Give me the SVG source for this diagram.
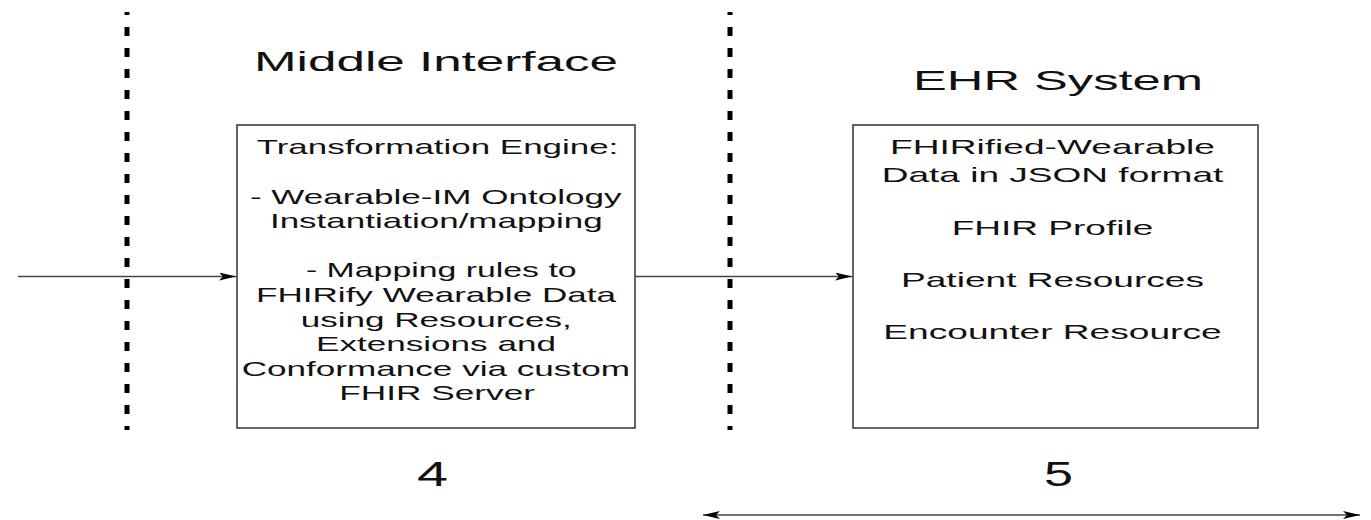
<svg xmlns="http://www.w3.org/2000/svg" width="1371" height="520" viewBox="0 0 1371 520">
<style>
.t{font-family:"Liberation Sans",Arial,sans-serif;fill:#111;text-anchor:middle}
.title{font-size:28px}
.num{font-size:35px}
.body{font-size:21px}
.box{fill:#fff;stroke:#333;stroke-width:1.5}
.conn{stroke:#444;stroke-width:1.5;fill:none}
.div{stroke:#000;stroke-width:5;stroke-dasharray:9 12;fill:none}
</style>
<defs>
<marker id="ah" viewBox="0 0 17 8" refX="17" refY="4" markerWidth="17" markerHeight="8" markerUnits="userSpaceOnUse" orient="auto-start-reverse">
<path d="M0,0 L17,4 L0,8 L4,4 Z" fill="#000"/>
</marker>
</defs>
<rect width="1371" height="520" fill="#fff"/>
<g id="dividers">
<line class="div" x1="127" y1="12" x2="127" y2="430" stroke-dashoffset="6"/>
<line class="div" x1="730" y1="12" x2="730" y2="430" stroke-dashoffset="6"/>
</g>
<g id="labels">
<text class="t title" x="436" y="70.7" textLength="364" lengthAdjust="spacingAndGlyphs">Middle Interface</text>
<text class="t title" x="1058" y="90" textLength="290" lengthAdjust="spacingAndGlyphs">EHR System</text>
<text class="t num" x="432.5" y="486" textLength="31" lengthAdjust="spacingAndGlyphs">4</text>
<text class="t num" x="1058.5" y="486" textLength="29" lengthAdjust="spacingAndGlyphs">5</text>
</g>
<g id="connectors">
<line class="conn" x1="18" y1="276.5" x2="236" y2="276.5" marker-end="url(#ah)"/>
<line class="conn" x1="635" y1="276.5" x2="852" y2="276.5" marker-end="url(#ah)"/>
<line class="conn" x1="703" y1="515" x2="1360" y2="515" marker-start="url(#ah)" marker-end="url(#ah)"/>
</g>
<g id="transformation-engine">
<rect class="box" x="237" y="125" width="398" height="303"/>
<text class="t body" x="437.5" y="154.3" textLength="361.6" lengthAdjust="spacingAndGlyphs">Transformation Engine:</text>
<text class="t body" x="435.8" y="203.5" textLength="371.7" lengthAdjust="spacingAndGlyphs">- Wearable-IM Ontology</text>
<text class="t body" x="436.3" y="228.1" textLength="332.7" lengthAdjust="spacingAndGlyphs">Instantiation/mapping</text>
<text class="t body" x="441.3" y="277.3" textLength="270.7" lengthAdjust="spacingAndGlyphs">- Mapping rules to</text>
<text class="t body" x="436" y="301.9" textLength="360" lengthAdjust="spacingAndGlyphs">FHIRify Wearable Data</text>
<text class="t body" x="436.2" y="326.5" textLength="271" lengthAdjust="spacingAndGlyphs">using Resources,</text>
<text class="t body" x="436" y="351.1" textLength="240" lengthAdjust="spacingAndGlyphs">Extensions and</text>
<text class="t body" x="435.8" y="375.7" textLength="388.3" lengthAdjust="spacingAndGlyphs">Conformance via custom</text>
<text class="t body" x="437.2" y="400.3" textLength="195.7" lengthAdjust="spacingAndGlyphs">FHIR Server</text>
</g>
<g id="ehr-system">
<rect class="box" x="853" y="125" width="405" height="303"/>
<text class="t body" x="1052.5" y="154.3" textLength="325" lengthAdjust="spacingAndGlyphs">FHIRified-Wearable</text>
<text class="t body" x="1052.5" y="181.5" textLength="341.7" lengthAdjust="spacingAndGlyphs">Data in JSON format</text>
<text class="t body" x="1052.5" y="234.5" textLength="201.7" lengthAdjust="spacingAndGlyphs">FHIR Profile</text>
<text class="t body" x="1052.5" y="286.7" textLength="303" lengthAdjust="spacingAndGlyphs">Patient Resources</text>
<text class="t body" x="1052.5" y="338.7" textLength="338.3" lengthAdjust="spacingAndGlyphs">Encounter Resource</text>
</g>
</svg>
